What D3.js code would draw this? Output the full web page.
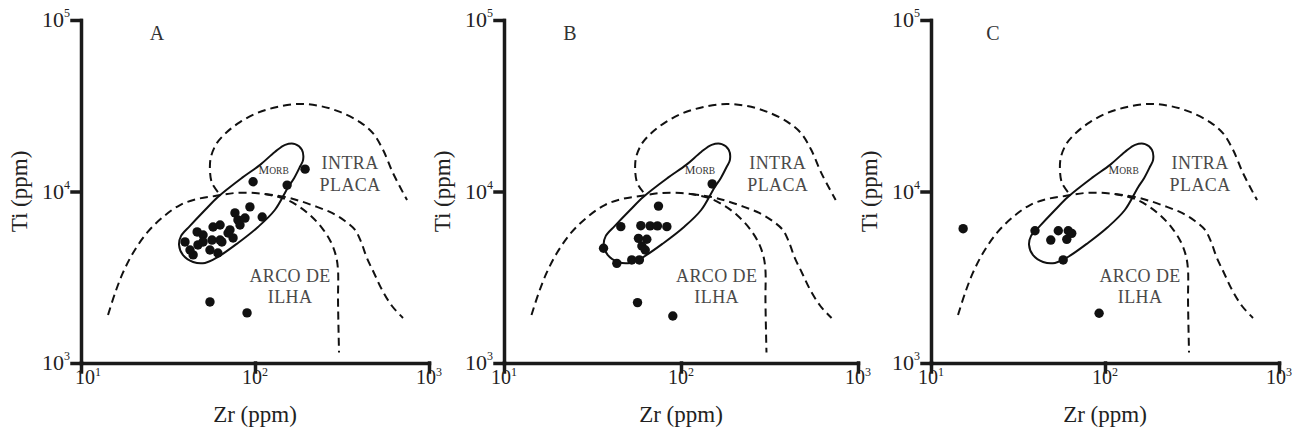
<!DOCTYPE html>
<html>
<head>
<meta charset="utf-8">
<script src="https://cdn.jsdelivr.net/npm/d3@7"></script>
<style>
	body { margin: 0; background: #fff; }
	text { font-family: "Liberation Serif", "Times New Roman", serif; }
</style>
</head>
<body>
<svg class="tiZr"></svg>
<script>
// tick values (ppm)
const zrTicks = [10, 100, 1000];
const tiTicks = [1000, 10000, 100000];

// samples, Zr / Ti in ppm
const zrA = [194, 97.5, 153, 93.5, 76.7, 79.8, 82, 87.6, 110, 71.8, 74.8, 57.4, 63, 56.6, 63, 55.1, 61.2, 46.5, 50.3, 47, 39.6, 44.1, 42.3, 50.3, 64.5, 70, 55.1, 90];
const tiA = [13500, 11400, 10900, 8130, 7500, 6830, 6380, 7000, 7100, 5970, 5360, 6210, 6380, 5210, 5210, 4560, 4380, 5810, 5580, 4880, 5080, 4270, 4560, 5080, 5080, 5730, 2270, 1960];

const zrB = [150, 74.6, 45.7, 59.3, 66.9, 73.6, 83.2, 57.5, 64.1, 60.1, 62.8, 36.5, 43.4, 52.7, 58.2, 56.8, 89.9];
const tiB = [11070, 8220, 6240, 6320, 6300, 6300, 6240, 5330, 5270, 4810, 4560, 4670, 3810, 3990, 3990, 2250, 1880];

const zrC = [15.3, 39.6, 53.9, 61.5, 64.4, 48.8, 60.3, 57.5, 92.5];
const tiC = [6070, 5900, 5900, 5900, 5700, 5210, 5260, 3990, 1950];

// field boundaries (ppm)
const morbZr = [149, 170, 186, 189, 181, 168, 155, 130, 104, 79.8, 61.2, 51.6, 44.1, 38.5, 36.6, 37.6, 42.3, 51.6, 61.2, 84.1, 107, 130];
const morbTi = [18700, 18900, 17500, 15300, 13900, 12000, 10600, 7800, 6210, 5010, 4150, 3830, 3880, 4270, 4880, 5510, 6300, 7800, 9290, 12000, 14300, 17000];

const arcZr = [14.3, 15.7, 17.4, 19.9, 23.9, 29.6, 37.1, 46.5, 58.9, 76.7, 100, 122, 149, 177, 207, 243, 273, 292, 300, 300, 304];
const arcTi = [1905, 2560, 3350, 4380, 5730, 7100, 8340, 9040, 9410, 9800, 9800, 9550, 9040, 8230, 7290, 6120, 5080, 4210, 3480, 2330, 1150];

const outerZr = [114, 149, 181, 227, 277, 329, 376, 407, 440, 483, 537, 613, 709];
const outerTi = [9660, 9290, 8810, 8130, 7500, 6730, 5970, 5080, 4090, 3350, 2670, 2150, 1830];

const plateZr = [61.2, 56.6, 55.1, 55.8, 60.5, 69.0, 82.0, 103, 134, 181, 237, 308, 401, 476, 544, 621, 748];
const plateTi = [9930, 11200, 13300, 15900, 19200, 22200, 25400, 28700, 31100, 32400, 31500, 29100, 25400, 21900, 17500, 12800, 8910];

// field names and where they sit (ppm)
const fieldNames = ['INTRA', 'PLACA', 'ARCO DE', 'ILHA'];
const fieldZr = [352, 352, 159, 159];
const fieldTi = [14700, 10900, 3210, 2430];
const morbLabelZr = 128, morbLabelTi = 13700;

const svg = d3.select('.tiZr')
	.attr('width', 1302)
	.attr('height', 434);

svg.append('rect').attr('width', 1302).attr('height', 434).attr('fill', '#fff');

const panels = [
	{ name: 'A', left: 81, right: 429, zr: zrA, ti: tiA, letterDx: 76 },
	{ name: 'B', left: 504, right: 858, zr: zrB, ti: tiB, letterDx: 66 },
	{ name: 'C', left: 931, right: 1279, zr: zrC, ti: tiC, letterDx: 62 }
];
const plotTop = 20, plotBottom = 363;

const zip = (a, b) => a.map((v, i) => [v, b[i]]);

const render = (p, idx) => {
	const xScale = d3.scaleLog().domain([10, 1000]).range([p.left, p.right]);
	const yScale = d3.scaleLog().domain([1000, 100000]).range([plotBottom, plotTop]);

	const g = svg.append('g');

	const line = d3.line()
		.x(d => xScale(d[0]))
		.y(d => yScale(d[1]))
		.curve(d3.curveCatmullRom);

	// dashed fields
	[zip(plateZr, plateTi), zip(arcZr, arcTi), zip(outerZr, outerTi)].forEach(pts => {
		g.append('path')
			.attr('d', line(pts))
			.attr('fill', 'none')
			.attr('stroke', '#111')
			.attr('stroke-width', 2)
			.attr('stroke-dasharray', '8,5');
	});

	// MORB field
	g.append('path')
		.attr('d', line.curve(d3.curveCatmullRomClosed)(zip(morbZr, morbTi)))
		.attr('fill', 'none')
		.attr('stroke', '#111')
		.attr('stroke-width', 2);

	const morbText = g.append('text')
		.attr('x', xScale(morbLabelZr))
		.attr('y', yScale(morbLabelTi))
		.attr('dy', '0.35em')
		.attr('text-anchor', 'middle')
		.attr('fill', '#333');
	morbText.append('tspan').attr('font-size', 12).text('M');
	morbText.append('tspan').attr('font-size', 9.5).text('ORB');

	g.selectAll('.field')
		.data(fieldNames)
		.enter()
		.append('text')
			.attr('class', 'field')
			.attr('x', (d, i) => xScale(fieldZr[i]))
			.attr('y', (d, i) => yScale(fieldTi[i]))
			.attr('dy', '0.35em')
			.attr('text-anchor', 'middle')
			.attr('font-size', 18)
			.attr('letter-spacing', 0.4)
			.attr('fill', '#4a4a4a')
			.text(d => d);

	// samples
	g.selectAll('circle')
		.data(zip(p.zr, p.ti))
		.enter()
		.append('circle')
			.attr('cx', d => xScale(d[0]))
			.attr('cy', d => yScale(d[1]))
			.attr('r', 4.7)
			.attr('fill', '#111');

	// axes
	const xAxisG = g.append('g')
		.attr('transform', `translate(0, ${plotBottom})`)
		.call(d3.axisBottom(xScale).tickValues(zrTicks).tickSize(9).tickSizeOuter(0).tickFormat(''));
	const yAxisG = g.append('g')
		.attr('transform', `translate(${p.left}, 0)`)
		.call(d3.axisLeft(yScale).tickValues(tiTicks).tickSize(9).tickSizeOuter(0).tickFormat(''));

	[xAxisG, yAxisG].forEach(a => {
		a.selectAll('path, line')
			.attr('stroke', '#1a1a1a')
			.attr('stroke-width', 3.5)
			.attr('stroke-linecap', 'square');
	});

	// tick labels with exponents
	zrTicks.forEach((v, i) => {
		const t = g.append('text')
			.attr('x', xScale(v) + (idx === 0 && i === 0 ? 7 : 0))
			.attr('y', plotBottom + 21)
			.attr('text-anchor', 'middle')
			.attr('font-size', 20)
			.attr('fill', '#222');
		t.append('tspan').text('10');
		t.append('tspan').attr('font-size', 12).attr('dy', -8).text(Math.round(Math.log10(v)));
	});

	tiTicks.forEach(v => {
		const t = g.append('text')
			.attr('x', p.left - 11)
			.attr('y', yScale(v) + 7)
			.attr('text-anchor', 'end')
			.attr('font-size', 22)
			.attr('fill', '#222');
		t.append('tspan').text('10');
		t.append('tspan').attr('font-size', 12).attr('dy', -10).text(Math.round(Math.log10(v)));
	});

	// axis titles
	g.append('text')
		.attr('x', (p.left + p.right) / 2)
		.attr('y', plotBottom + 59)
		.attr('text-anchor', 'middle')
		.attr('font-size', 23)
		.attr('fill', '#222')
		.text('Zr (ppm)');

	g.append('text')
		.attr('transform', `translate(${p.left - 62}, ${yScale(10000)}) rotate(-90)`)
		.attr('dy', '0.35em')
		.attr('text-anchor', 'middle')
		.attr('font-size', 23)
		.attr('fill', '#222')
		.text('Ti (ppm)');

	// panel letter
	g.append('text')
		.attr('x', p.left + p.letterDx)
		.attr('y', plotTop + 20)
		.attr('text-anchor', 'middle')
		.attr('font-size', 20)
		.attr('fill', '#333')
		.text(p.name);
};

panels.forEach(render);
</script>
</body>
</html>
